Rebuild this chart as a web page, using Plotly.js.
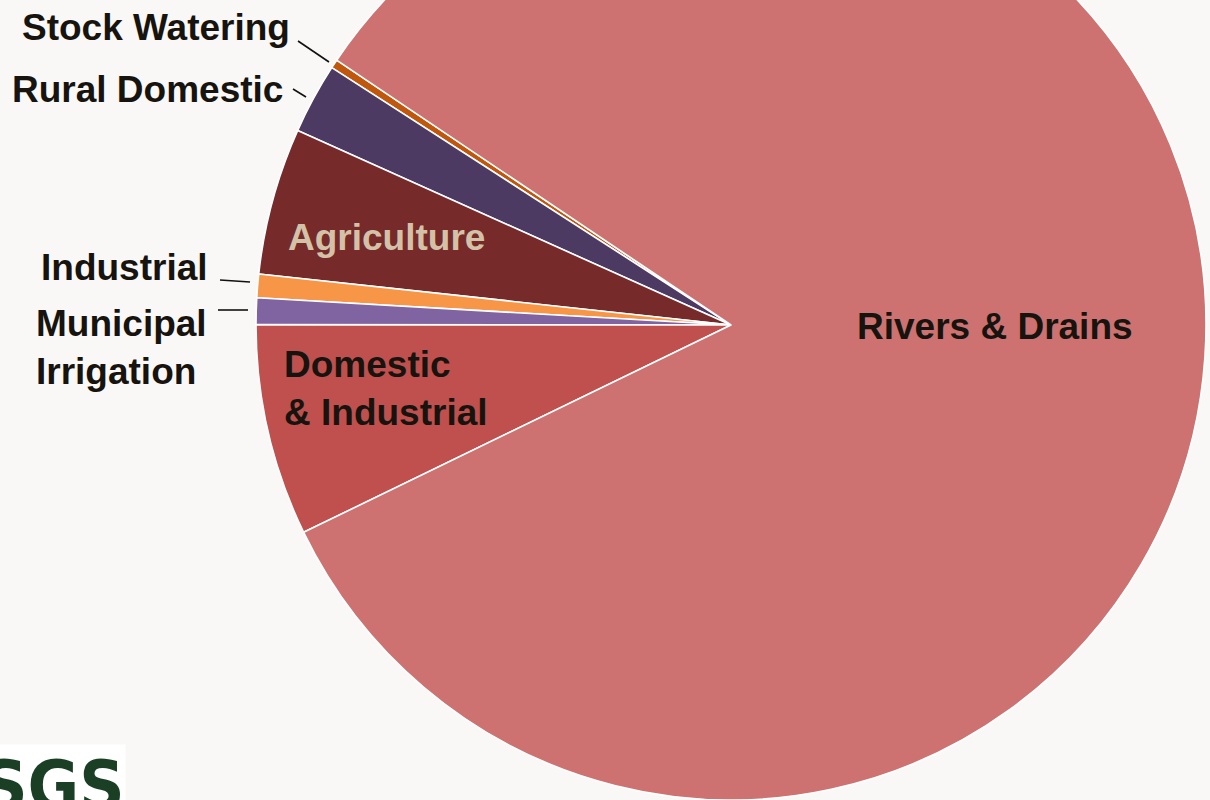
<!DOCTYPE html>
<html><head><meta charset="utf-8">
<script src="https://cdn.plot.ly/plotly-3.0.1.min.js"></script>
<style>
html,body{margin:0;padding:0;background:#F9F8F6;overflow:hidden;width:1210px;height:800px}
#chart{position:absolute;left:0;top:-150px;width:1210px;height:950px}
</style>
</head><body><div id="chart"></div>
<script>
// ---- data ----
const categories = ['Stock Watering','Rural Domestic','Agriculture','Industrial','Municipal Irrigation','Domestic & Industrial','Rivers & Drains'];
const shares = [0.3, 2.4, 5.0, 0.8, 0.9, 7.2, 83.4];
const labelTexts = ['Stock Watering','Rural Domestic','Agriculture','Industrial','Municipal<br>Irrigation','Domestic<br>& Industrial','Rivers & Drains'];

// ---- styling ----
const sliceColors = ['#BF570C','#4D3A62','#772A2A','#F79646','#8064A2','#C0504D','#CD7270'];
const W = 1210, H = 950, OFF = 150;
const px = x => x / W;
const py = y => 1 - (y + OFF) / H;
const FONT = 'Liberation Sans, Arial, sans-serif';
const dark = '#17140F';

// label placement (screen pixels) for each category, same order as categories
const labelPlace = [
  {x: 292, y: 27, xa: 'right', align: 'right', color: dark},
  {x: 285, y: 89, xa: 'right', align: 'right', color: dark},
  {x: 386, y: 237, xa: 'center', align: 'center', color: '#D4C2A8'},
  {x: 210, y: 268, xa: 'right', align: 'right', color: dark},
  {x: 34, y: 347, xa: 'left', align: 'left', color: dark},
  {x: 282, y: 388, xa: 'left', align: 'left', color: dark},
  {x: 995, y: 326, xa: 'center', align: 'center', color: dark}
];
const leaders = [
  [298, 41, 329, 62],
  [293, 89, 306, 97],
  [220, 280, 250, 282],
  [218, 310, 248, 310]
];

const trace = {
  type: 'pie',
  labels: categories,
  values: shares,
  sort: false,
  direction: 'counterclockwise',
  rotation: -57.2,
  marker: {colors: sliceColors, line: {color: '#FFFFFF', width: 1.6}},
  textinfo: 'none',
  hoverinfo: 'label+percent',
  domain: {x: [256 / W, 1206 / W], y: [0, 1]},
  showlegend: false
};

const annotations = categories.map((c, i) => ({
  xref: 'paper', yref: 'paper',
  x: px(labelPlace[i].x), y: py(labelPlace[i].y),
  xanchor: labelPlace[i].xa, yanchor: 'middle', align: labelPlace[i].align,
  text: labelTexts[i], showarrow: false,
  font: {family: FONT, size: 37, weight: 'bold', color: labelPlace[i].color}
}));

annotations.push({
  xref: 'paper', yref: 'paper', x: px(126), y: py(744),
  xanchor: 'right', yanchor: 'top', showarrow: false,
  text: 'USGS', bgcolor: '#FFFFFF', borderpad: 0,
  font: {family: 'DejaVu Sans Condensed, Liberation Sans Narrow, Arial Narrow, sans-serif', size: 70, weight: 'bold', color: '#1B3F24'}
});

const shapes = leaders.map(l => ({
  type: 'line', xref: 'paper', yref: 'paper',
  x0: px(l[0]), y0: py(l[1]), x1: px(l[2]), y1: py(l[3]),
  line: {color: '#111111', width: 1.6}
}));

const layout = {
  width: W, height: H,
  margin: {l: 0, r: 0, t: 0, b: 0},
  paper_bgcolor: '#F9F8F6',
  plot_bgcolor: '#F9F8F6',
  annotations: annotations,
  shapes: shapes,
  showlegend: false
};

Plotly.newPlot('chart', [trace], layout, {displayModeBar: false, staticPlot: true});
</script>
</body></html>
